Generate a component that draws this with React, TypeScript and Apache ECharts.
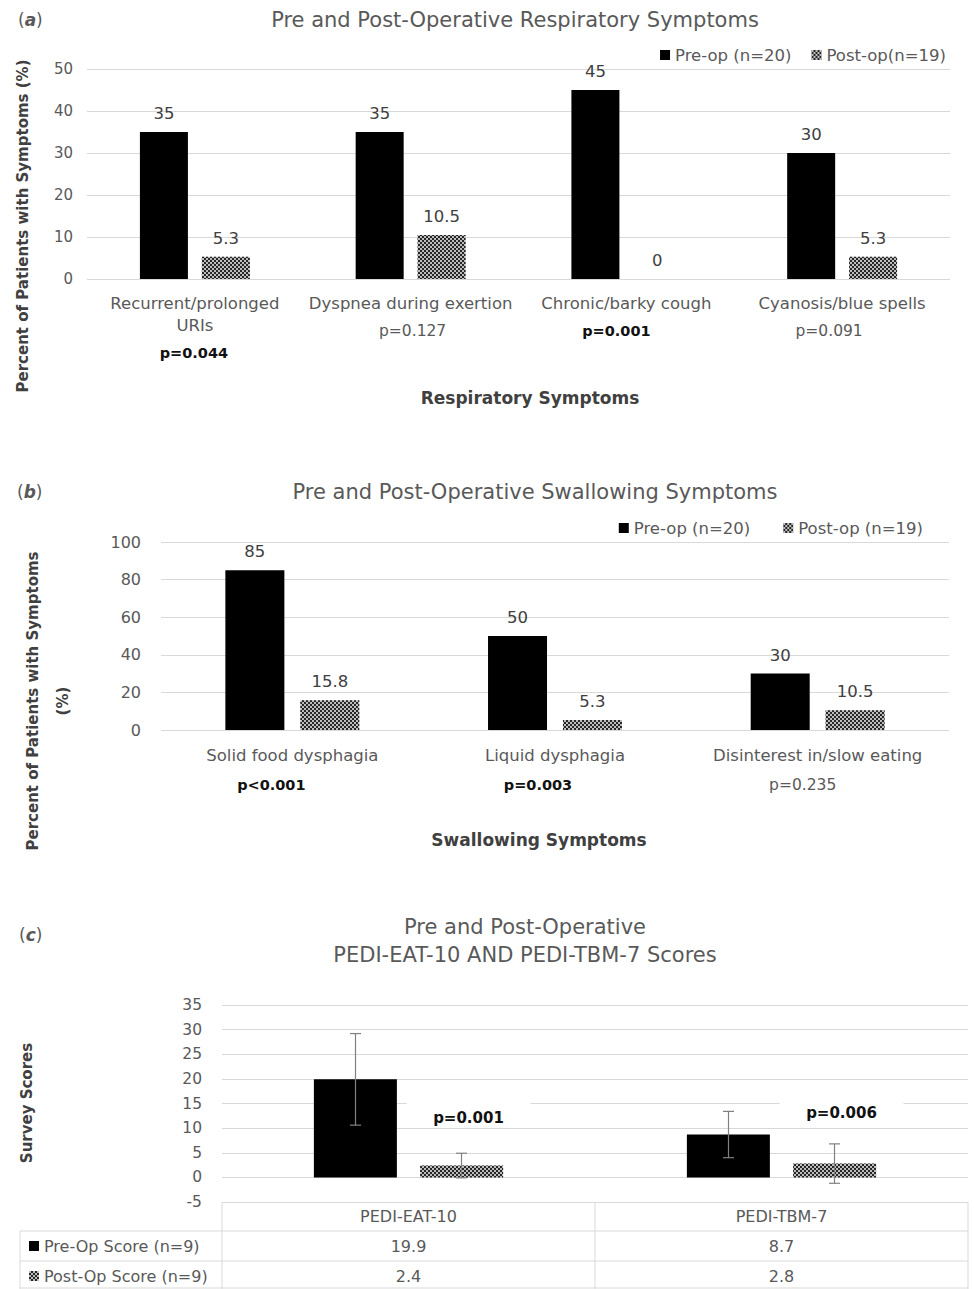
import React, { useEffect, useRef } from 'react';
import * as echarts from 'echarts';

// ---------- data ----------
const categoriesA = ['Recurrent/prolonged\nURIs', 'Dyspnea during exertion', 'Chronic/barky cough', 'Cyanosis/blue spells'];
const preA = [35, 35, 45, 30];
const postA = [5.3, 10.5, 0, 5.3];
const pValuesA = ['p=0.044', 'p=0.127', 'p=0.001', 'p=0.091'];
const pSigA = [true, false, true, false];
const ticksA = [0, 50, 10];

const categoriesB = ['Solid food dysphagia', 'Liquid dysphagia', 'Disinterest in/slow eating'];
const preB = [85, 50, 30];
const postB = [15.8, 5.3, 10.5];
const pValuesB = ['p<0.001', 'p=0.003', 'p=0.235'];
const pSigB = [true, true, false];
const ticksB = [0, 100, 20];

const categoriesC = ['PEDI-EAT-10', 'PEDI-TBM-7'];
const preC = [19.9, 8.7];
const postC = [2.4, 2.8];
const preErrC = [9.3, 4.7];
const postErrC = [2.5, 4.0];
const pValuesC = ['p=0.001', 'p=0.006'];
const pLabelYC = [12, 13];
const ticksC = [-5, 35, 5];

const namesA = ['Pre-op (n=20)', 'Post-op(n=19)'];
const namesB = ['Pre-op (n=20)', 'Post-op (n=19)'];
const namesC = ['Pre-Op Score (n=9)', 'Post-Op Score (n=9)'];

// ---------- layout / style ----------
const W = 974;
const H = 1289;
const FONT = 'DejaVu Sans';
const GRAY = '#595959';
const DARK = '#404040';
const GRIDC = '#d9d9d9';
const gridA = { left: 87, right: 24, top: 69, height: 210 };
const gridB = { left: 161, right: 25, top: 542, height: 188 };
const gridC = { left: 222, right: 6, top: 1005, height: 197 };
const pShiftA = [-1, 2, -10, -13];
const pShiftB = [-21, -17, -15];

const preStyle = { color: '#000000' };
const postStyle = {
  color: '#bdbdbd',
  decal: {
    symbol: 'rect',
    symbolSize: 1,
    color: '#262626',
    dashArrayX: [[2, 2], [0, 2, 2, 0]],
    dashArrayY: [2, 0],
    rotation: 0,
  },
};

function richFor(prefix: string, sig: boolean[], shifts: number[], lh: number) {
  const rich: any = {};
  sig.forEach((s, i) => {
    const sh = shifts[i];
    rich[prefix + i] = {
      fontFamily: FONT,
      fontSize: s ? 14.5 : 15.5,
      fontWeight: s ? 'bold' : 'normal',
      color: s ? '#111111' : GRAY,
      lineHeight: lh,
      padding: sh < 0 ? [0, -2 * sh, 0, 0] : [0, 0, 0, 2 * sh],
    };
  });
  return rich;
}

function valueAxis(gridIndex: number, t: number[], fs: number, margin: number) {
  return {
    type: 'value',
    gridIndex,
    min: t[0],
    max: t[1],
    interval: t[2],
    axisLine: { show: false },
    axisTick: { show: false },
    axisLabel: { fontFamily: FONT, fontSize: fs, color: GRAY, margin },
    splitLine: { lineStyle: { color: GRIDC, width: 1 } },
  };
}

function dataLabel() {
  return { show: true, position: 'top', distance: 10, fontFamily: FONT, fontSize: 16.5, color: DARK };
}

function text(x: number, y: number, t: string, opts: any = {}) {
  return {
    type: 'text',
    x,
    y,
    rotation: opts.rotation || 0,
    silent: true,
    style: {
      text: t,
      fontFamily: FONT,
      fontSize: opts.fontSize || 16,
      fontWeight: opts.fontWeight || 'normal',
      fill: opts.fill || GRAY,
      align: opts.align || 'center',
      verticalAlign: 'middle',
      lineHeight: opts.lineHeight,
      rich: opts.rich,
    },
  };
}

function line(x1: number, y1: number, x2: number, y2: number) {
  return { type: 'line', silent: true, shape: { x1, y1, x2, y2 }, style: { stroke: GRIDC, lineWidth: 1 } };
}

const panelRich = {
  p: { fontFamily: FONT, fontSize: 17, color: '#000' },
  b: { fontFamily: FONT, fontSize: 17, color: '#000', fontWeight: 'bold', fontStyle: 'italic' },
};

const legendText = (fs: number) => ({ fontFamily: FONT, fontSize: fs, color: GRAY, lineHeight: 20 });

function buildOption() {
  const catW = (W - gridC.left - gridC.right) / categoriesC.length;
  const colX = categoriesC.map((_, i) => gridC.left + (i + 0.5) * catW);
  const tableRight = W - gridC.right;
  const tableTop = gridC.top + gridC.height;

  const graphic: any[] = [
    text(18, 20, '{p|(}{b|a}{p|)}', { align: 'left', rich: panelRich }),
    text(17, 492, '{p|(}{b|b}{p|)}', { align: 'left', rich: panelRich }),
    text(19, 935, '{p|(}{b|c}{p|)}', { align: 'left', rich: panelRich }),
    text(515, 20, 'Pre and Post-Operative Respiratory Symptoms', { fontSize: 21 }),
    text(535, 492, 'Pre and Post-Operative Swallowing Symptoms', { fontSize: 21 }),
    text(525, 927, 'Pre and Post-Operative', { fontSize: 21 }),
    text(525, 955, 'PEDI-EAT-10 AND PEDI-TBM-7 Scores', { fontSize: 21 }),
    text(530, 398, 'Respiratory Symptoms', { fontSize: 17, fontWeight: 'bold', fill: DARK }),
    text(539, 840, 'Swallowing Symptoms', { fontSize: 17, fontWeight: 'bold', fill: DARK }),
    text(23, 226, 'Percent of Patients with Symptoms (%)', { fontSize: 15, fontWeight: 'bold', fill: DARK, rotation: Math.PI / 2 }),
    text(48, 701, 'Percent of Patients with Symptoms\n(%)', { fontSize: 15, fontWeight: 'bold', fill: DARK, rotation: Math.PI / 2, lineHeight: 30 }),
    text(27, 1103, 'Survey Scores', { fontSize: 15, fontWeight: 'bold', fill: DARK, rotation: Math.PI / 2 }),
    // table
    line(20, 1231, tableRight, 1231),
    line(20, 1261, tableRight, 1261),
    line(20, 1288, tableRight, 1288),
    line(20, 1231, 20, H),
    line(gridC.left, tableTop, gridC.left, H),
    line(gridC.left + catW, tableTop, gridC.left + catW, H),
    line(tableRight, tableTop, tableRight, H),
  ];
  categoriesC.forEach((c, i) => {
    graphic.push(text(colX[i], 1216, c, { fontSize: 16 }));
    graphic.push(text(colX[i], 1246, String(preC[i]), { fontSize: 16 }));
    graphic.push(text(colX[i], 1276, String(postC[i]), { fontSize: 16 }));
  });

  const errData = [
    ...preC.map((v, i) => [i, v, preErrC[i], -1]),
    ...postC.map((v, i) => [i, v, postErrC[i], 1]),
  ];
  const pData = pLabelYC.map((y, i) => [i, y, i]);
  const halfOffset = 53;

  return {
    animation: false,
    backgroundColor: '#ffffff',
    grid: [
      { ...gridA, containLabel: false },
      { ...gridB, containLabel: false },
      { ...gridC, containLabel: false },
    ],
    legend: [
      {
        data: namesA, right: 28, top: 45, padding: 0, icon: 'rect', itemWidth: 10, itemHeight: 10, itemGap: 20,
        selectedMode: false, textStyle: legendText(16.5),
      },
      {
        data: namesB, right: 51, top: 518, padding: 0, icon: 'rect', itemWidth: 10, itemHeight: 10, itemGap: 33,
        selectedMode: false, textStyle: legendText(16.5),
      },
      {
        data: namesC, left: 29, top: 1236, padding: 0, orient: 'vertical', icon: 'rect', itemWidth: 10, itemHeight: 10, itemGap: 10,
        selectedMode: false, textStyle: legendText(16),
      },
    ],
    xAxis: [
      {
        type: 'category', gridIndex: 0, data: categoriesA,
        axisLine: { show: false }, axisTick: { show: false },
        axisLabel: {
          interval: 0, fontFamily: FONT, fontSize: 16.5, color: GRAY, lineHeight: 22, margin: 13,
          formatter: (v: string, i: number) => `${v}\n{a${i}|${pValuesA[i]}}`,
          rich: richFor('a', pSigA, pShiftA, 34),
        },
      },
      {
        type: 'category', gridIndex: 1, data: categoriesB,
        axisLine: { show: false }, axisTick: { show: false },
        axisLabel: {
          interval: 0, fontFamily: FONT, fontSize: 16.5, color: GRAY, lineHeight: 22, margin: 14,
          formatter: (v: string, i: number) => `${v}\n{b${i}|${pValuesB[i]}}`,
          rich: richFor('b', pSigB, pShiftB, 38),
        },
      },
      {
        type: 'category', gridIndex: 2, data: categoriesC,
        axisLine: { show: false }, axisTick: { show: false }, axisLabel: { show: false },
      },
    ],
    yAxis: [
      valueAxis(0, ticksA, 15, 14),
      valueAxis(1, ticksB, 16, 20),
      valueAxis(2, ticksC, 15.5, 20),
    ],
    graphic,
    series: [
      { type: 'bar', name: namesA[0], xAxisIndex: 0, yAxisIndex: 0, data: preA, barWidth: 48, barGap: '29%', itemStyle: preStyle, label: dataLabel() },
      { type: 'bar', name: namesA[1], xAxisIndex: 0, yAxisIndex: 0, data: postA, barWidth: 48, barGap: '29%', itemStyle: postStyle, label: dataLabel() },
      { type: 'bar', name: namesB[0], xAxisIndex: 1, yAxisIndex: 1, data: preB, barWidth: 59, barGap: '27%', itemStyle: preStyle, label: dataLabel() },
      { type: 'bar', name: namesB[1], xAxisIndex: 1, yAxisIndex: 1, data: postB, barWidth: 59, barGap: '27%', itemStyle: postStyle, label: dataLabel() },
      { type: 'bar', name: namesC[0], xAxisIndex: 2, yAxisIndex: 2, data: preC, barWidth: 83, barGap: '28%', itemStyle: preStyle },
      { type: 'bar', name: namesC[1], xAxisIndex: 2, yAxisIndex: 2, data: postC, barWidth: 83, barGap: '28%', itemStyle: postStyle },
      {
        type: 'custom', name: 'err', xAxisIndex: 2, yAxisIndex: 2, silent: true, z: 5,
        data: errData, encode: { x: 0, y: 1 },
        renderItem: (params: any, api: any) => {
          const i = api.value(0);
          const v = api.value(1);
          const e = api.value(2);
          const side = api.value(3);
          const c = api.coord([i, v]);
          const top = api.coord([i, v + e]);
          const bot = api.coord([i, v - e]);
          const x = c[0] + side * halfOffset;
          const st = { stroke: '#808080', lineWidth: 1.2 };
          return {
            type: 'group',
            children: [
              { type: 'line', shape: { x1: x, y1: top[1], x2: x, y2: bot[1] }, style: st },
              { type: 'line', shape: { x1: x - 5.5, y1: top[1], x2: x + 5.5, y2: top[1] }, style: st },
              { type: 'line', shape: { x1: x - 5.5, y1: bot[1], x2: x + 5.5, y2: bot[1] }, style: st },
            ],
          };
        },
      },
      {
        type: 'custom', name: 'pval', xAxisIndex: 2, yAxisIndex: 2, silent: true, z: 4,
        data: pData, encode: { x: 0, y: 1 },
        renderItem: (params: any, api: any) => {
          const i = api.value(0);
          const y = api.value(1);
          const k = api.value(2);
          const c = api.coord([i, y]);
          const x = c[0] + halfOffset + 7;
          return {
            type: 'group',
            children: [
              { type: 'rect', shape: { x: x - 62, y: c[1] - 18, width: 124, height: 26 }, style: { fill: '#ffffff' } },
              {
                type: 'text', x, y: c[1],
                style: { text: pValuesC[k], fontFamily: FONT, fontSize: 15, fontWeight: 'bold', fill: '#111111', align: 'center', verticalAlign: 'middle' },
              },
            ],
          };
        },
      },
    ],
  };
}

export default function App() {
  const ref = useRef<HTMLDivElement>(null);
  useEffect(() => {
    if (!ref.current) return;
    const chart = echarts.init(ref.current, undefined, { renderer: 'svg' });
    chart.setOption(buildOption() as any);
    return () => chart.dispose();
  }, []);
  return (
    <div
      ref={ref}
      style={{ position: 'absolute', left: 0, top: 0, width: W, height: H, background: '#fff' }}
    />
  );
}
